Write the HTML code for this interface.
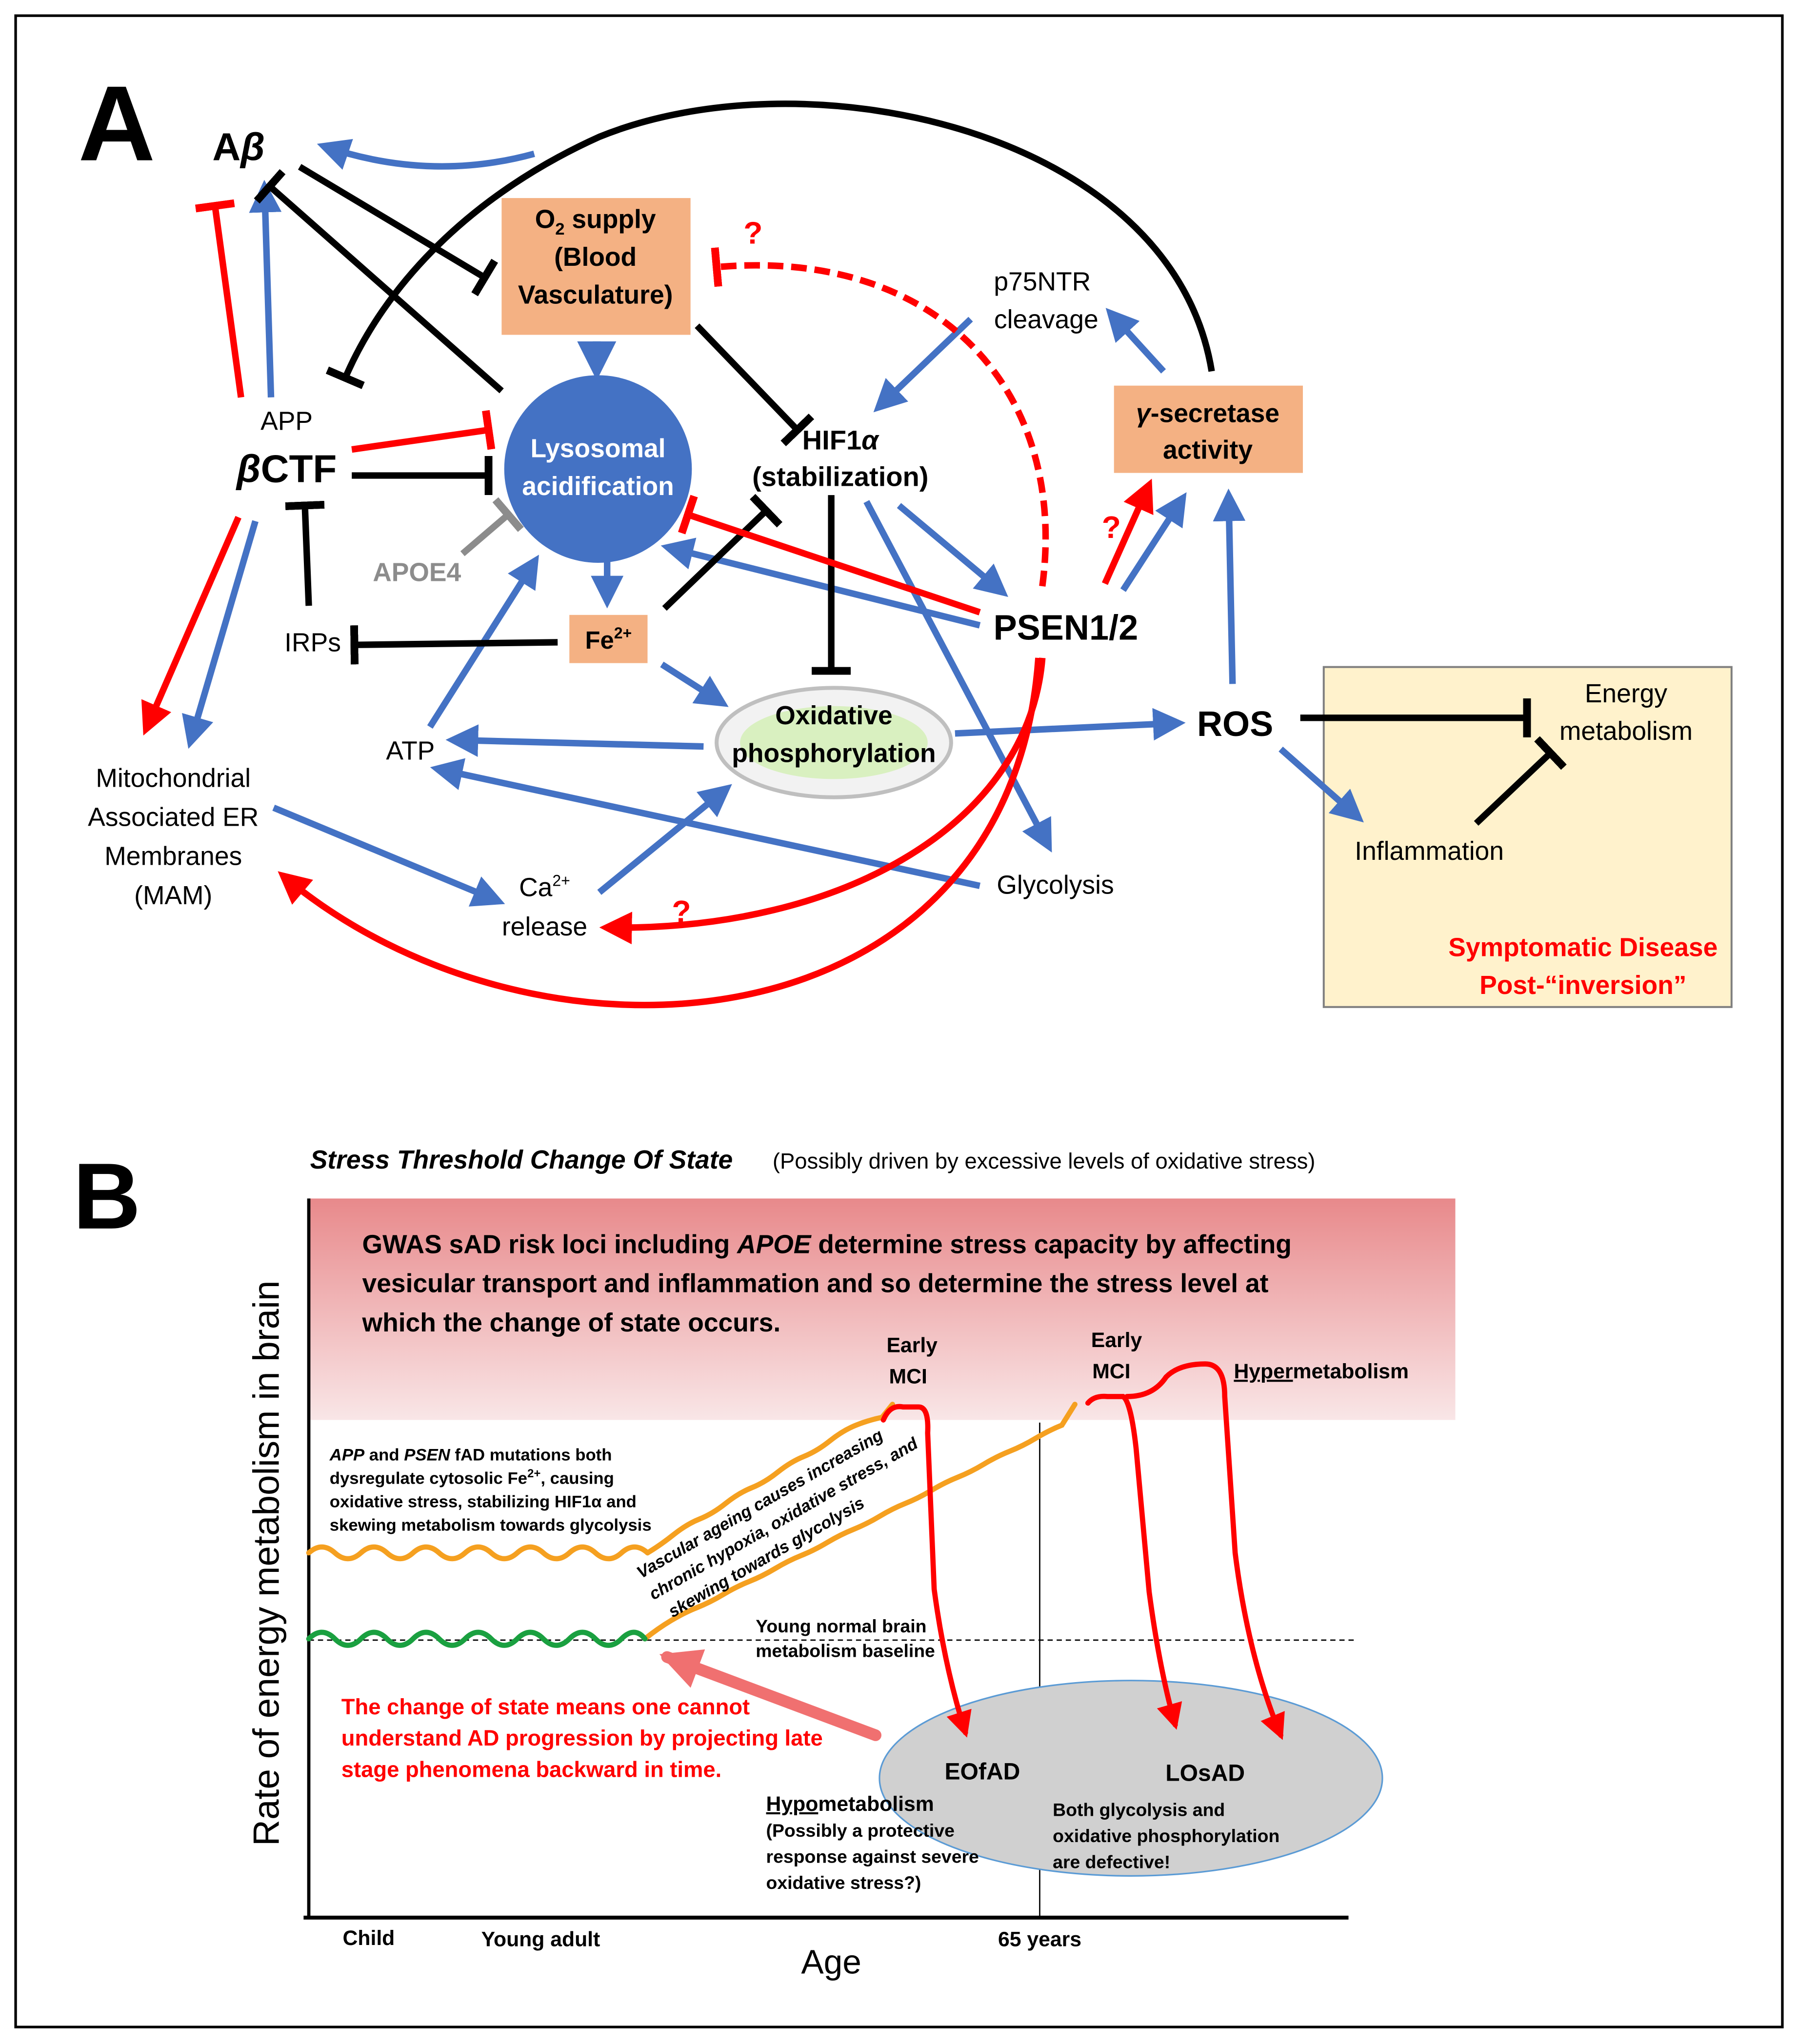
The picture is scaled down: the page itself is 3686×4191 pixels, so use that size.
<!DOCTYPE html>
<html><head><meta charset="utf-8"><style>
html,body{margin:0;padding:0;background:#fff}
svg{display:block}
text{font-family:"Liberation Sans",sans-serif}
</style></head><body>
<svg width="3686" height="4191" viewBox="0 0 1380 1569" xmlns="http://www.w3.org/2000/svg">
<defs>
<marker id="ab" viewBox="0 0 10 10" refX="8" refY="5" markerWidth="5" markerHeight="5" orient="auto" markerUnits="strokeWidth"><path d="M0,0L10,5L0,10z" fill="#4472c4"/></marker>
<marker id="ar" viewBox="0 0 10 10" refX="8" refY="5" markerWidth="5" markerHeight="5" orient="auto" markerUnits="strokeWidth"><path d="M0,0L10,5L0,10z" fill="#f00"/></marker>
<marker id="ap" viewBox="0 0 10 10" refX="8" refY="5" markerWidth="3.5" markerHeight="3.5" orient="auto" markerUnits="strokeWidth"><path d="M0,0L10,5L0,10z" fill="#f07070"/></marker>
<marker id="tk" viewBox="0 0 4 20" refX="2" refY="10" markerWidth="1.2" markerHeight="6" orient="auto" markerUnits="strokeWidth"><rect width="4" height="20" fill="#000"/></marker>
<marker id="tr" viewBox="0 0 4 20" refX="2" refY="10" markerWidth="1.2" markerHeight="6" orient="auto" markerUnits="strokeWidth"><rect width="4" height="20" fill="#f00"/></marker>
<marker id="tg" viewBox="0 0 4 20" refX="2" refY="10" markerWidth="1.2" markerHeight="6" orient="auto" markerUnits="strokeWidth"><rect width="4" height="20" fill="#8c8c8c"/></marker>
<linearGradient id="pk" x1="0" y1="0" x2="0" y2="1"><stop offset="0" stop-color="#e8898b"/><stop offset="1" stop-color="#f9e6e7"/></linearGradient>
</defs>
<rect x="12" y="12" width="1356" height="1544" fill="#fff" stroke="#000" stroke-width="2"/>

<!-- PART A -->
<text x="60" y="123" font-size="82" font-weight="bold">A</text>
<text x="163" y="123" font-size="30" font-weight="bold">A<tspan font-style="italic">β</tspan></text>

<rect x="385" y="152" width="145" height="105" fill="#f4b183"/>
<text x="457" y="175" font-size="20" font-weight="bold" text-anchor="middle">O<tspan font-size="13" dy="5">2</tspan><tspan dy="-5"> supply</tspan></text>
<text x="457" y="204" font-size="20" font-weight="bold" text-anchor="middle">(Blood</text>
<text x="457" y="233" font-size="20" font-weight="bold" text-anchor="middle">Vasculature)</text>

<circle cx="459" cy="360" r="72" fill="#4472c4"/>
<text x="459" y="351" font-size="20" font-weight="bold" fill="#fff" text-anchor="middle">Lysosomal</text>
<text x="459" y="380" font-size="20" font-weight="bold" fill="#fff" text-anchor="middle">acidification</text>

<text x="645" y="345" font-size="21" font-weight="bold" text-anchor="middle">HIF1<tspan font-style="italic">α</tspan></text>
<text x="645" y="373" font-size="21" font-weight="bold" text-anchor="middle">(stabilization)</text>
<text x="800" y="223" font-size="20" text-anchor="middle">p75NTR</text>
<text x="803" y="252" font-size="20" text-anchor="middle">cleavage</text>

<rect x="855" y="296" width="145" height="67" fill="#f4b183"/>
<text x="927" y="324" font-size="20" font-weight="bold" text-anchor="middle"><tspan font-style="italic">γ</tspan>-secretase</text>
<text x="927" y="352" font-size="20" font-weight="bold" text-anchor="middle">activity</text>

<text x="220" y="330" font-size="20" text-anchor="middle">APP</text>
<text x="220" y="370" font-size="30" font-weight="bold" text-anchor="middle"><tspan font-style="italic">β</tspan>CTF</text>
<text x="320" y="446" font-size="20" font-weight="bold" fill="#8c8c8c" text-anchor="middle">APOE4</text>

<rect x="437" y="472" width="60" height="37" fill="#f4b183"/>
<text x="467" y="498" font-size="19" font-weight="bold" text-anchor="middle">Fe<tspan font-size="12" dy="-8">2+</tspan></text>

<text x="818" y="491" font-size="27" font-weight="bold" text-anchor="middle">PSEN1/2</text>
<text x="240" y="500" font-size="20" text-anchor="middle">IRPs</text>
<text x="315" y="583" font-size="20" text-anchor="middle">ATP</text>

<ellipse cx="640" cy="570" rx="90" ry="42" fill="#f2f2f2" stroke="#bfbfbf" stroke-width="3"/>
<ellipse cx="640" cy="570" rx="72" ry="28" fill="#d9f0c0"/>
<text x="640" y="556" font-size="20" font-weight="bold" text-anchor="middle">Oxidative</text>
<text x="640" y="585" font-size="20" font-weight="bold" text-anchor="middle">phosphorylation</text>

<text x="948" y="565" font-size="27" font-weight="bold" text-anchor="middle">ROS</text>
<text x="133" y="604" font-size="20" text-anchor="middle">Mitochondrial</text>
<text x="133" y="634" font-size="20" text-anchor="middle">Associated ER</text>
<text x="133" y="664" font-size="20" text-anchor="middle">Membranes</text>
<text x="133" y="694" font-size="20" text-anchor="middle">(MAM)</text>
<text x="418" y="688" font-size="20" text-anchor="middle">Ca<tspan font-size="12" dy="-8">2+</tspan></text>
<text x="418" y="718" font-size="20" text-anchor="middle">release</text>
<text x="810" y="686" font-size="20" text-anchor="middle">Glycolysis</text>

<rect x="1016" y="512" width="313" height="261" fill="#fff2cc" stroke="#7f7f7f" stroke-width="1.5"/>
<text x="1248" y="539" font-size="20" text-anchor="middle">Energy</text>
<text x="1248" y="568" font-size="20" text-anchor="middle">metabolism</text>
<text x="1097" y="660" font-size="20" text-anchor="middle">Inflammation</text>
<text x="1215" y="734" font-size="20" font-weight="bold" fill="#f00" text-anchor="middle">Symptomatic Disease</text>
<text x="1215" y="763" font-size="20" font-weight="bold" fill="#f00" text-anchor="middle">Post-“inversion”</text>

<g fill="none" stroke-width="5">
<path d="M410,118 Q330,140 248,112" stroke="#4472c4" marker-end="url(#ab)"/>
<line x1="208" y1="305" x2="203" y2="143" stroke="#4472c4" marker-end="url(#ab)"/>
<line x1="458" y1="262" x2="458" y2="286" stroke="#0070c0" stroke-width="6" marker-end="url(#ab)"/>
<line x1="466" y1="408" x2="466" y2="462" stroke="#4472c4" marker-end="url(#ab)"/>
<line x1="745" y1="245" x2="674" y2="313" stroke="#4472c4" marker-end="url(#ab)"/>
<line x1="893" y1="285" x2="852" y2="240" stroke="#4472c4" marker-end="url(#ab)"/>
<line x1="690" y1="388" x2="770" y2="455" stroke="#4472c4" marker-end="url(#ab)"/>
<line x1="665" y1="385" x2="805" y2="650" stroke="#4472c4" marker-end="url(#ab)"/>
<line x1="752" y1="480" x2="512" y2="420" stroke="#4472c4" marker-end="url(#ab)"/>
<line x1="862" y1="453" x2="908" y2="382" stroke="#4472c4" marker-end="url(#ab)"/>
<line x1="946" y1="525" x2="943" y2="380" stroke="#4472c4" marker-end="url(#ab)"/>
<line x1="508" y1="510" x2="555" y2="540" stroke="#4472c4" marker-end="url(#ab)"/>
<line x1="540" y1="573" x2="347" y2="568" stroke="#4472c4" marker-end="url(#ab)"/>
<line x1="330" y1="558" x2="411" y2="430" stroke="#4472c4" marker-end="url(#ab)"/>
<line x1="752" y1="680" x2="335" y2="590" stroke="#4472c4" marker-end="url(#ab)"/>
<line x1="460" y1="685" x2="558" y2="605" stroke="#4472c4" marker-end="url(#ab)"/>
<line x1="210" y1="620" x2="383" y2="692" stroke="#4472c4" marker-end="url(#ab)"/>
<line x1="733" y1="563" x2="905" y2="555" stroke="#4472c4" marker-end="url(#ab)"/>
<line x1="196" y1="400" x2="146" y2="570" stroke="#4472c4" marker-end="url(#ab)"/>
<line x1="983" y1="575" x2="1043" y2="628" stroke="#4472c4" marker-end="url(#ab)"/>
<path d="M930,285 C900,100 620,40 460,105 C360,150 295,220 265,290" stroke="#000" marker-end="url(#tk)"/>
<line x1="230" y1="128" x2="372" y2="213" stroke="#000" marker-end="url(#tk)"/>
<line x1="385" y1="300" x2="207" y2="143" stroke="#000" marker-end="url(#tk)"/>
<line x1="270" y1="365" x2="375" y2="365" stroke="#000" marker-end="url(#tk)"/>
<line x1="237" y1="465" x2="234" y2="388" stroke="#000" marker-end="url(#tk)"/>
<line x1="428" y1="493" x2="272" y2="495" stroke="#000" marker-end="url(#tk)"/>
<line x1="510" y1="467" x2="588" y2="392" stroke="#000" marker-end="url(#tk)"/>
<line x1="535" y1="250" x2="612" y2="330" stroke="#000" marker-end="url(#tk)"/>
<line x1="638" y1="380" x2="638" y2="515" stroke="#000" marker-end="url(#tk)"/>
<line x1="998" y1="551" x2="1172" y2="551" stroke="#000" marker-end="url(#tk)"/>
<line x1="1133" y1="632" x2="1190" y2="578" stroke="#000" marker-end="url(#tk)"/>
<line x1="355" y1="425" x2="390" y2="395" stroke="#8c8c8c" marker-end="url(#tg)"/>
<line x1="185" y1="305" x2="165" y2="158" stroke="#f00" marker-end="url(#tr)"/>
<line x1="270" y1="345" x2="375" y2="330" stroke="#f00" marker-end="url(#tr)"/>
<line x1="752" y1="470" x2="528" y2="395" stroke="#f00" marker-end="url(#tr)"/>
<line x1="848" y1="448" x2="882" y2="372" stroke="#f00" marker-end="url(#ar)"/>
<line x1="183" y1="397" x2="112" y2="560" stroke="#f00" marker-end="url(#ar)"/>
<path d="M800,450 C820,300 720,190 550,205" stroke="#f00" stroke-dasharray="12,6" marker-end="url(#tr)"/>
<path d="M800,505 C790,630 650,715 465,712" stroke="#f00" marker-end="url(#ar)"/>
<path d="M797,505 C775,810 410,835 217,672" stroke="#f00" marker-end="url(#ar)"/>
</g>
<text x="578" y="187" font-size="24" font-weight="bold" fill="#f00" text-anchor="middle">?</text>
<text x="853" y="413" font-size="24" font-weight="bold" fill="#f00" text-anchor="middle">?</text>
<text x="523" y="708" font-size="24" font-weight="bold" fill="#f00" text-anchor="middle">?</text>

<!-- PART B -->
<text x="56" y="943" font-size="72" font-weight="bold">B</text>
<text x="238" y="897" font-size="20" font-weight="bold" font-style="italic">Stress Threshold Change Of State</text>
<text x="593" y="897" font-size="17">(Possibly driven by excessive levels of oxidative stress)</text>

<rect x="237" y="920" width="880" height="170" fill="url(#pk)"/>
<text x="278" y="962" font-size="20" font-weight="bold">GWAS sAD risk loci including <tspan font-style="italic">APOE</tspan> determine stress capacity by affecting</text>
<text x="278" y="992" font-size="20" font-weight="bold">vesicular transport and inflammation and so determine the stress level at</text>
<text x="278" y="1022" font-size="20" font-weight="bold">which the change of state occurs.</text>

<line x1="237" y1="920" x2="237" y2="1473" stroke="#000" stroke-width="2.5"/>
<line x1="233" y1="1472" x2="1035" y2="1472" stroke="#000" stroke-width="3"/>
<line x1="798" y1="1092" x2="798" y2="1472" stroke="#000" stroke-width="1"/>
<line x1="237" y1="1259" x2="1040" y2="1259" stroke="#000" stroke-width="1" stroke-dasharray="4,3"/>

<text transform="translate(214,1200) rotate(-90)" font-size="28" text-anchor="middle">Rate of energy metabolism in brain</text>
<text x="638" y="1515" font-size="26" text-anchor="middle">Age</text>
<text x="283" y="1493" font-size="16" font-weight="bold" text-anchor="middle">Child</text>
<text x="415" y="1494" font-size="16" font-weight="bold" text-anchor="middle">Young adult</text>
<text x="798" y="1494" font-size="16" font-weight="bold" text-anchor="middle">65 years</text>

<ellipse cx="868" cy="1365" rx="193" ry="75" fill="#d0d0d0" stroke="#5b9bd5" stroke-width="1.2"/>

<g fill="none" stroke-width="4" stroke-linecap="round">
<path d="M237,1192 q10,-9 20,0 t20,0 t20,0 t20,0 t20,0 t20,0 t20,0 t20,0 t20,0 t20,0 t20,0 t20,0 t20,0" stroke="#f5a020"/>
<path d="M497,1192 q10,-6 20,-14 t20,-12 t20,-12 t20,-12 t20,-12 t20,-12 t20,-12 t20,-12 t20,-6 l8,-10" stroke="#f5a020"/>
<path d="M495,1258 q10,-8 20,-14 t20,-10 t20,-10 t20,-10 t20,-10 t20,-10 t20,-10 t20,-10 t20,-10 t20,-10 t20,-10 t20,-10 t20,-10 t20,-10 t20,-10 t20,-10 l10,-16" stroke="#f5a020"/>
<path d="M237,1258 q10,-10 20,0 t20,0 t20,0 t20,0 t20,0 t20,0 t20,0 t20,0 t20,0 t20,0 t20,0 t20,0 t18,0" stroke="#1aa040"/>
<path d="M678,1090 q5,-12 15,-10 h12 q8,0 7,20 l5,120 q8,60 24,110" stroke="#f00" marker-end="url(#ar)"/>
<path d="M835,1077 q5,-6 15,-5 h12 q6,4 10,40 l10,110 q8,60 20,102" stroke="#f00" marker-end="url(#ar)"/>
<path d="M865,1072 q20,0 30,-15 q10,-10 30,-10 q15,0 15,25 l8,120 q10,80 35,140" stroke="#f00" marker-end="url(#ar)"/>
<line x1="672" y1="1332" x2="512" y2="1272" stroke="#f07070" stroke-width="9" marker-end="url(#ap)"/>
</g>

<text x="700" y="1038" font-size="16" font-weight="bold" text-anchor="middle">Early</text>
<text x="697" y="1062" font-size="16" font-weight="bold" text-anchor="middle">MCI</text>
<text x="857" y="1034" font-size="16" font-weight="bold" text-anchor="middle">Early</text>
<text x="853" y="1058" font-size="16" font-weight="bold" text-anchor="middle">MCI</text>
<text x="947" y="1058" font-size="16" font-weight="bold"><tspan text-decoration="underline">Hyper</tspan>metabolism</text>

<text font-size="13" font-weight="bold"><tspan x="253" y="1121"><tspan font-style="italic">APP</tspan> and <tspan font-style="italic">PSEN</tspan> fAD mutations both</tspan><tspan x="253" y="1139">dysregulate cytosolic Fe<tspan font-size="9" dy="-5">2+</tspan><tspan dy="5">, causing</tspan></tspan><tspan x="253" y="1157">oxidative stress, stabilizing HIF1α and</tspan><tspan x="253" y="1175">skewing metabolism towards glycolysis</tspan></text>

<g transform="translate(492,1212) rotate(-30)" font-size="13" font-weight="bold" font-style="italic">
<text x="0" y="0">Vascular ageing causes increasing</text>
<text x="0" y="19">chronic hypoxia, oxidative stress, and</text>
<text x="6" y="38">skewing towards glycolysis</text>
</g>

<text x="580" y="1253" font-size="14" font-weight="bold">Young normal brain</text>
<text x="580" y="1272" font-size="14" font-weight="bold">metabolism baseline</text>

<text x="262" y="1316" font-size="17" font-weight="bold" fill="#f00">The change of state means one cannot</text>
<text x="262" y="1340" font-size="17" font-weight="bold" fill="#f00">understand AD progression by projecting late</text>
<text x="262" y="1364" font-size="17" font-weight="bold" fill="#f00">stage phenomena backward in time.</text>

<text x="754" y="1366" font-size="18" font-weight="bold" text-anchor="middle">EOfAD</text>
<text x="925" y="1367" font-size="18" font-weight="bold" text-anchor="middle">LOsAD</text>
<text x="588" y="1390" font-size="16" font-weight="bold"><tspan text-decoration="underline">Hypo</tspan>metabolism</text>
<text x="588" y="1410" font-size="14" font-weight="bold">(Possibly a protective</text>
<text x="588" y="1430" font-size="14" font-weight="bold">response against severe</text>
<text x="588" y="1450" font-size="14" font-weight="bold">oxidative stress?)</text>
<text x="808" y="1394" font-size="14" font-weight="bold">Both glycolysis and</text>
<text x="808" y="1414" font-size="14" font-weight="bold">oxidative phosphorylation</text>
<text x="808" y="1434" font-size="14" font-weight="bold">are defective!</text>
</svg>
</body></html>
